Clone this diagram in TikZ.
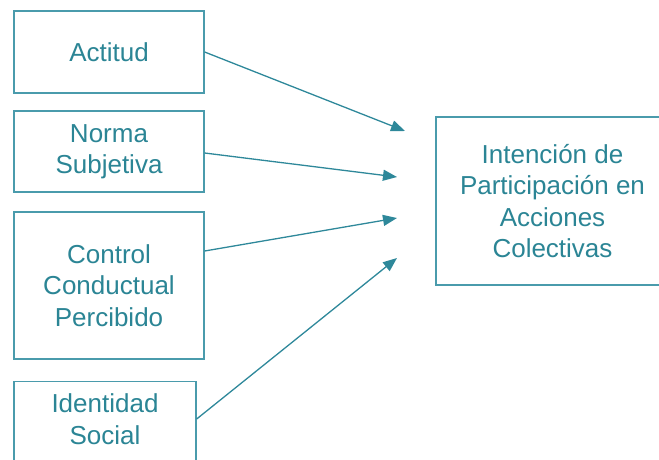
\documentclass[tikz,border=0pt]{standalone}
\usepackage{fontspec}
\setmainfont{Liberation Sans}
\usetikzlibrary{arrows.meta,calc}
\definecolor{tealtext}{HTML}{2B8595}
\definecolor{tealline}{HTML}{4A9BAC}
\definecolor{tealarrow}{HTML}{2E889A}
\tikzset{
  factor/.style={draw=tealline, line width=1.3pt, fill=white, inner sep=0pt,
    text=tealtext, align=center, font=\fontsize{26pt}{31.5pt}\selectfont},
  label text/.style={text=tealtext, align=center, inner sep=0pt,
    font=\fontsize{26pt}{31.5pt}\selectfont},
  link/.style={draw=tealarrow, line width=1.3pt,
    -{Triangle[length=14pt,width=11pt]}}
}
\begin{document}
\begin{tikzpicture}[x=1pt,y=-1pt]
  \useasboundingbox (0,0) rectangle (659,459);
  \clip (0,0) rectangle (659,459);

  % predictor boxes
  \node[factor, minimum width=190pt, minimum height=82pt] (act) at (109,52) {Actitud};
  \node[factor, minimum width=190pt, minimum height=81pt] (norm) at (109,151.5) {Norma\\Subjetiva};
  \node[factor, minimum width=190pt, minimum height=147pt] (ctl) at (109,285.5) {Control\\Conductual\\Percibido};
  \node[factor, minimum width=182pt, minimum height=110pt, anchor=north] (ids) at (105,381) {};
  \node[label text] (idstxt) at (105,419) {Identidad\\Social};

  % outcome box
  \node[factor, minimum width=233pt, minimum height=168pt] (int) at (552.5,201)
    {Intención de\\Participación en\\Acciones\\Colectivas};

  % arrow tips
  \coordinate (t1) at (405,131);
  \coordinate (t2) at (397,177);
  \coordinate (t3) at (397,218);
  \coordinate (t4) at (397,258);

  \draw[link] (act.east) -- (t1);
  \draw[link] ([yshift=-1.5pt]norm.east) -- (t2);
  \draw[link] ([yshift=34.5pt]ctl.east) -- (t3);
  \draw[link] (ids.east |- idstxt) -- (t4);
\end{tikzpicture}
\end{document}
